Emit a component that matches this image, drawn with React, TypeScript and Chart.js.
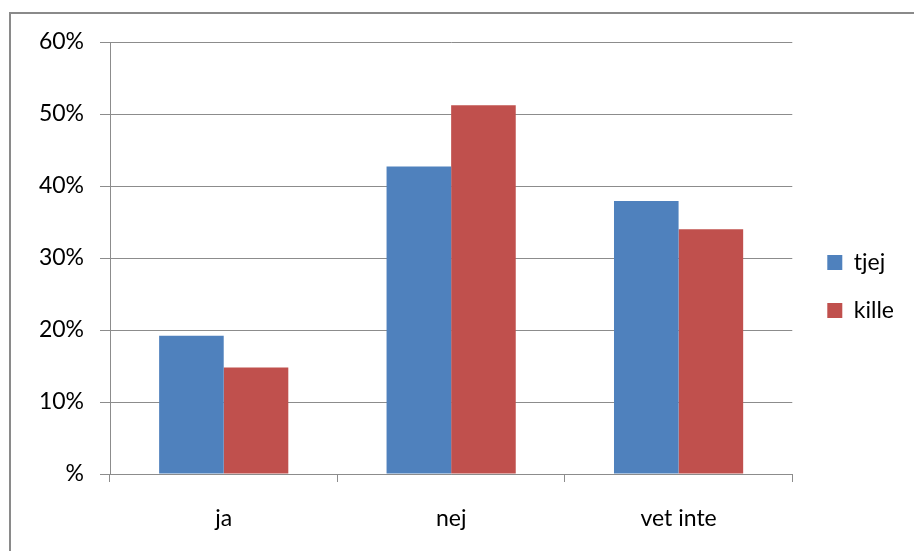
import React, { useEffect, useRef } from 'react';
import { Chart, registerables } from 'chart.js';

Chart.register(...registerables);

const categories = ['ja', 'nej', 'vet inte'];
const seriesNames = ['tjej', 'kille'];
const tjej = [0.192, 0.427, 0.379];
const kille = [0.148, 0.512, 0.34];
const yTickLabels = ['%', '10%', '20%', '30%', '40%', '50%', '60%'];

const FONT_FAMILY = 'Lato, "Open Sans", sans-serif';
const GRID = '#8c8c8c';

export default function App() {
  const ref = useRef<HTMLCanvasElement>(null);

  useEffect(() => {
    const legendShift = {
      id: 'legendShift',
      afterLayout(chart: any) {
        const l = chart.legend;
        if (!l) return;
        l.left += 10;
        l.right += 10;
        l.top -= 10;
        l.bottom -= 10;
      },
    };
    const font = { family: FONT_FAMILY, size: 23 };
    const chart = new Chart(ref.current as HTMLCanvasElement, {
      type: 'bar',
      data: {
        labels: categories,
        datasets: [
          { label: seriesNames[0], data: tjej, backgroundColor: '#4F81BD' },
          { label: seriesNames[1], data: kille, backgroundColor: '#C0504D' },
        ],
      },
      options: {
        responsive: false,
        animation: false,
        layout: { padding: { top: 42, right: 20, bottom: 0, left: 0 } },
        datasets: { bar: { barPercentage: 1, categoryPercentage: 0.568 } },
        plugins: {
          legend: {
            position: 'right',
            align: 'center',
            labels: { font, color: '#000', boxWidth: 15, boxHeight: 15, padding: 25 },
          },
          tooltip: { enabled: false },
        },
        scales: {
          x: {
            grid: { offset: true, drawOnChartArea: false, drawTicks: true, tickLength: 8, color: GRID },
            border: { color: GRID },
            ticks: { font, color: '#000', padding: 23 },
            afterFit(s: any) { s.height = 77; },
          },
          y: {
            min: 0,
            max: 0.6,
            ticks: {
              stepSize: 0.1,
              font,
              color: '#000',
              padding: 16,
              callback: (_v: any, i: number) => yTickLabels[i],
            },
            grid: { color: GRID, tickLength: 10 },
            border: { color: GRID },
            afterFit(s: any) { s.width = 110; },
          },
        },
      } as any,
      plugins: [legendShift],
    });
    return () => chart.destroy();
  }, []);

  return (
    <>
      <div style={{ position: 'fixed', left: 0, top: 0, width: 914, height: 551 }}>
        <canvas ref={ref} width={914} height={551} style={{ display: 'block' }} />
      </div>
      <div
        style={{
          position: 'fixed',
          left: 9,
          top: 12,
          width: 1000,
          height: 1000,
          border: '2px solid #8a8a8a',
          boxSizing: 'border-box',
          pointerEvents: 'none',
        }}
      />
    </>
  );
}
